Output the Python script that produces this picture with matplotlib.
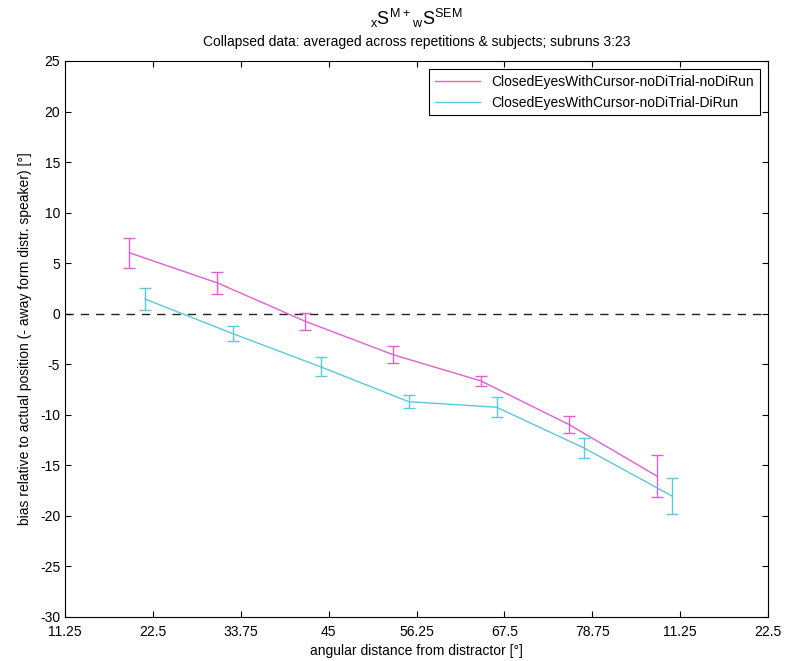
import matplotlib
matplotlib.use("Agg")
import matplotlib.pyplot as plt

plt.rcParams['font.family'] = ['Liberation Sans', 'DejaVu Sans']
plt.rcParams['mathtext.default'] = 'regular'
plt.rcParams['axes.unicode_minus'] = False

# ---- data ----
tick_pos = [11.25, 22.5, 33.75, 45, 56.25, 67.5, 78.75, 90, 101.25]
tick_labels = ['11.25', '22.5', '33.75', '45', '56.25', '67.5', '78.75', '11.25', '22.5']

x_noDiRun = [19.5, 30.75, 42.0, 53.25, 64.5, 75.75, 87.0]
y_noDiRun = [6.03, 3.05, -0.75, -4.05, -6.65, -10.95, -16.05]
e_noDiRun = [1.49, 1.11, 0.83, 0.83, 0.45, 0.88, 2.05]

x_DiRun = [21.5, 32.75, 44.0, 55.25, 66.5, 77.75, 89.0]
y_DiRun = [1.45, -1.97, -5.26, -8.7, -9.25, -13.3, -18.05]
e_DiRun = [1.07, 0.73, 0.94, 0.63, 0.98, 1.0, 1.8]

labels = ['ClosedEyesWithCursor-noDiTrial-noDiRun', 'ClosedEyesWithCursor-noDiTrial-DiRun']
colors = ['#E060CF', '#5CC8DC']

fig = plt.figure(figsize=(7.85, 6.61), dpi=100)
ax = fig.add_axes([65/785, 44/661, 703/785, 556/661])

ax.plot([tick_pos[0], tick_pos[-1]], [0, 0], linestyle=(0, (6, 5)), color='#222222', linewidth=1.0, zorder=1)

l1 = ax.errorbar(x_noDiRun, y_noDiRun, yerr=e_noDiRun, color=colors[0], linewidth=1.0,
                 elinewidth=1.0, capsize=4, capthick=1.0, label=labels[0], zorder=3)
l2 = ax.errorbar(x_DiRun, y_DiRun, yerr=e_DiRun, color=colors[1], linewidth=1.0,
                 elinewidth=1.0, capsize=4, capthick=1.0, label=labels[1], zorder=3)

ax.set_xlim(tick_pos[0], tick_pos[-1])
ax.set_ylim(-30, 25)
ax.set_xticks(tick_pos)
ax.set_xticklabels(tick_labels)
ax.set_yticks(range(-30, 26, 5))
ax.tick_params(direction='in', length=4, top=True, right=True, labelsize=10, width=0.8)
ax.tick_params(axis='x', pad=6)
for s in ax.spines.values():
    s.set_linewidth(0.8)

ax.set_xlabel('angular distance from distractor [°]', fontsize=10, labelpad=3)
ax.set_ylabel('bias relative to actual position (- away form distr. speaker) [°]', fontsize=10, labelpad=6)

ax.set_title('Collapsed data: averaged across repetitions & subjects; subruns 3:23',
             fontsize=10, pad=11)
fig.text(0.5 * (65 + 768) / 785, 1 - 18 / 661, r'$_{x}S^{M+}{}_{w}S^{SEM}$',
         fontsize=13, ha='center', va='center')

leg = ax.legend(handles=[l1.lines[0], l2.lines[0]], labels=labels, loc='upper right', fontsize=10,
                frameon=True, fancybox=False, edgecolor='black', framealpha=1,
                handlelength=3.3, borderaxespad=0.6, borderpad=0.4, labelspacing=0.5)
leg.get_frame().set_linewidth(0.8)

fig.savefig('out.png', dpi=100)
